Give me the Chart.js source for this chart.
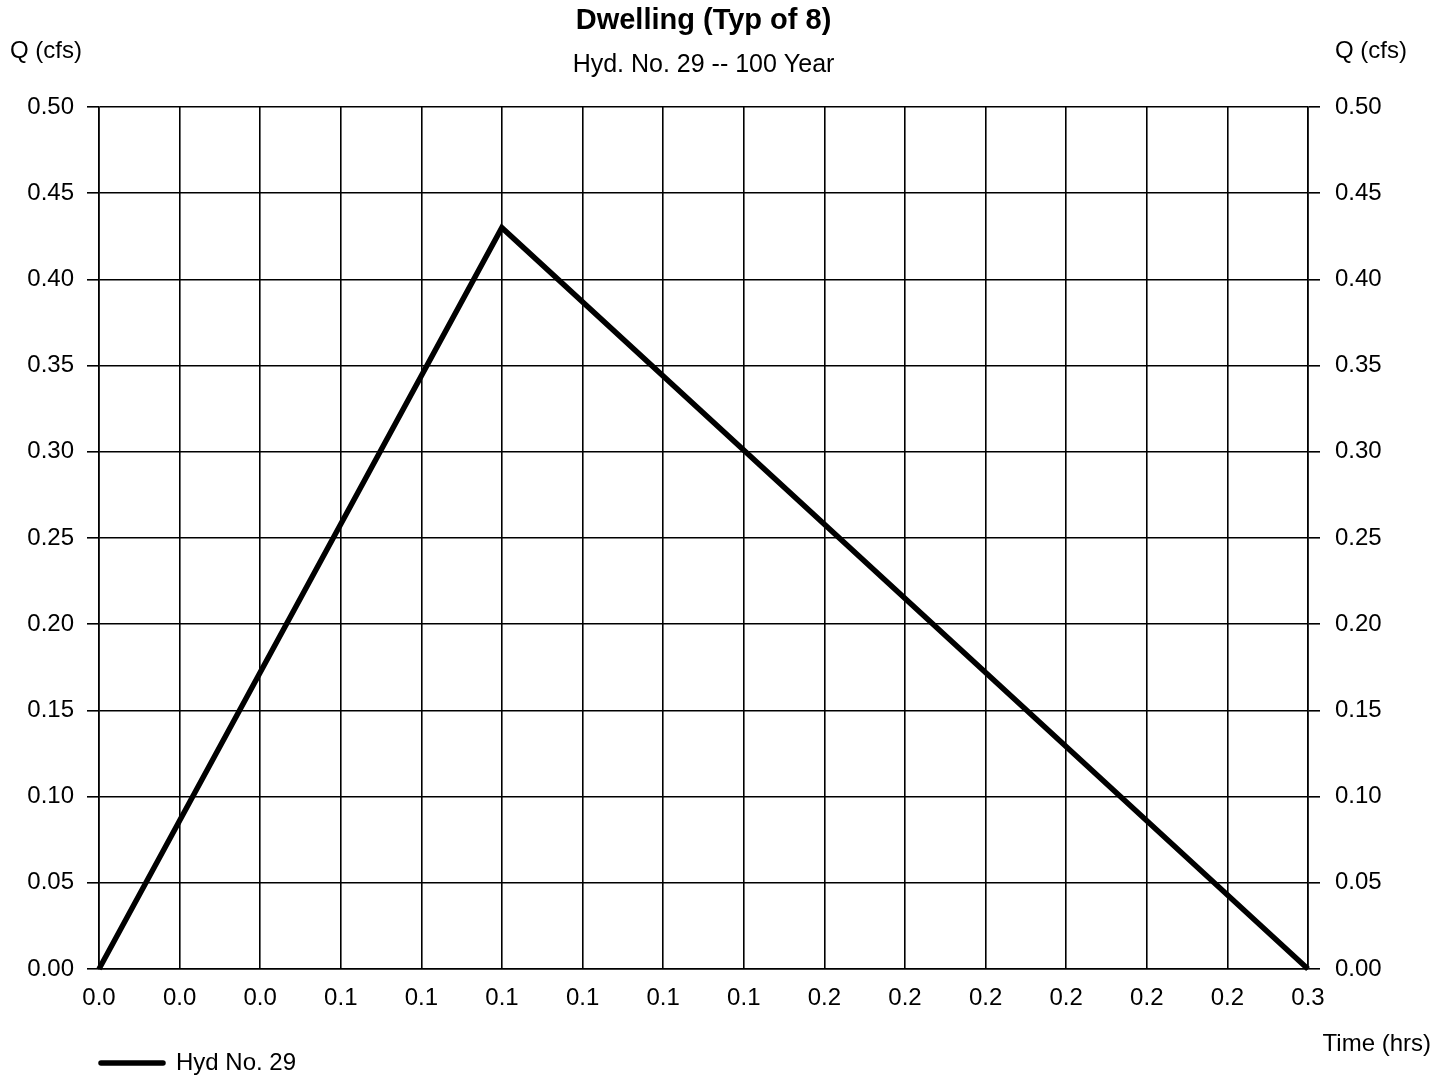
<!DOCTYPE html>
<html>
<head>
<meta charset="utf-8">
<script src="https://cdn.jsdelivr.net/npm/chart.js@4.4.1/dist/chart.umd.min.js"></script>
<style>
  html, body { margin: 0; padding: 0; background: #fff; }
  #wrap { width: 1449px; height: 1078px; }
</style>
</head>
<body>
<div id="wrap"><canvas id="hydChart" width="1449" height="1078"></canvas></div>
<script>
'use strict'
// hydrograph values
const timeHrs = [0, 0.0833, 0.25];
const flowCfs = [0, 0.43, 0];
const timeTickLabels = ['0.0', '0.0', '0.0', '0.1', '0.1', '0.1', '0.1', '0.1', '0.1', '0.2', '0.2', '0.2', '0.2', '0.2', '0.2', '0.3'];
const timeTickStep = 1 / 60;
const seriesName = 'Hyd No. 29';
const chartTitle = 'Dwelling (Typ of 8)';
const chartSubtitle = 'Hyd. No. 29 -- 100 Year';

{
  const font = 'Liberation Sans, Arial, Helvetica, sans-serif';
  const ctx = document.getElementById('hydChart').getContext('2d');

  const textPlugin = {
    id: 'textPlugin',
    afterDraw(chart) {
      const c = chart.ctx;
      const a = chart.chartArea;
      c.save();
      c.fillStyle = '#000';
      c.textBaseline = 'middle';

      c.textAlign = 'center';
      c.font = 'bold 29px ' + font;
      c.fillText(chartTitle, (a.left + a.right) / 2, a.top - 86);
      c.font = '25px ' + font;
      c.fillText(chartSubtitle, (a.left + a.right) / 2, a.top - 42);

      c.font = '24px ' + font;
      c.fillText('Q (cfs)', 46, a.top - 56);
      c.textAlign = 'left';
      c.fillText('Q (cfs)', a.right + 27, a.top - 56);
      c.textAlign = 'right';
      c.fillText('Time (hrs)', 1431, a.bottom + 75);

      // legend
      const ds = chart.data.datasets[0];
      c.strokeStyle = ds.borderColor;
      c.lineWidth = ds.borderWidth;
      c.lineCap = 'round';
      c.beginPath();
      c.moveTo(a.left + 2, a.bottom + 94);
      c.lineTo(a.left + 64, a.bottom + 94);
      c.stroke();
      c.textAlign = 'left';
      c.fillText(ds.label, a.left + 77, a.bottom + 94);
      c.restore();
    }
  };

  const data = {
    datasets: [{
      label: seriesName,
      data: timeHrs.map((t, i) => ({ x: t, y: flowCfs[i] })),
      borderColor: '#000',
      backgroundColor: '#000',
      borderWidth: 5.5,
      pointRadius: 0,
      tension: 0,
      clip: false,
    }],
  };

  const yTicks = {
    stepSize: 0.05,
    color: '#000',
    padding: 13,
    font: { family: font, size: 24 },
    callback: (v) => v.toFixed(2),
  };

  const options = {
    responsive: false,
    animation: false,
    layout: { padding: { top: 107, bottom: 59, left: 0, right: 0 } },
    plugins: {
      legend: { display: false },
      tooltip: { enabled: false },
    },
    scales: {
      x: {
        type: 'linear',
        min: 0,
        max: 0.25,
        afterBuildTicks: (scale) => {
          scale.ticks = timeTickLabels.map((_, i) => ({ value: i * timeTickStep }));
        },
        afterFit: (scale) => { scale.height = 50; },
        ticks: {
          autoSkip: false,
          maxRotation: 0,
          color: '#000',
          padding: 15,
          font: { family: font, size: 24 },
          callback: (v, i) => timeTickLabels[i],
        },
        grid: { color: '#000', lineWidth: 1.6, drawTicks: false },
        border: { color: '#000', width: 1.6 },
      },
      y: {
        position: 'left',
        min: 0,
        max: 0.5,
        afterFit: (scale) => { scale.width = 99; },
        ticks: yTicks,
        grid: { color: '#000', lineWidth: 1.6, tickLength: 12 },
        border: { color: '#000', width: 1.6 },
      },
      y2: {
        position: 'right',
        min: 0,
        max: 0.5,
        afterFit: (scale) => { scale.width = 141; },
        ticks: Object.assign({}, yTicks, { padding: 15 }),
        grid: { color: '#000', lineWidth: 1.6, tickLength: 12, drawOnChartArea: false },
        border: { color: '#000', width: 1.6 },
      },
    },
  };

  new Chart(ctx, {
    type: 'line',
    data: data,
    options: options,
    plugins: [textPlugin],
  });
}
</script>
</body>
</html>
